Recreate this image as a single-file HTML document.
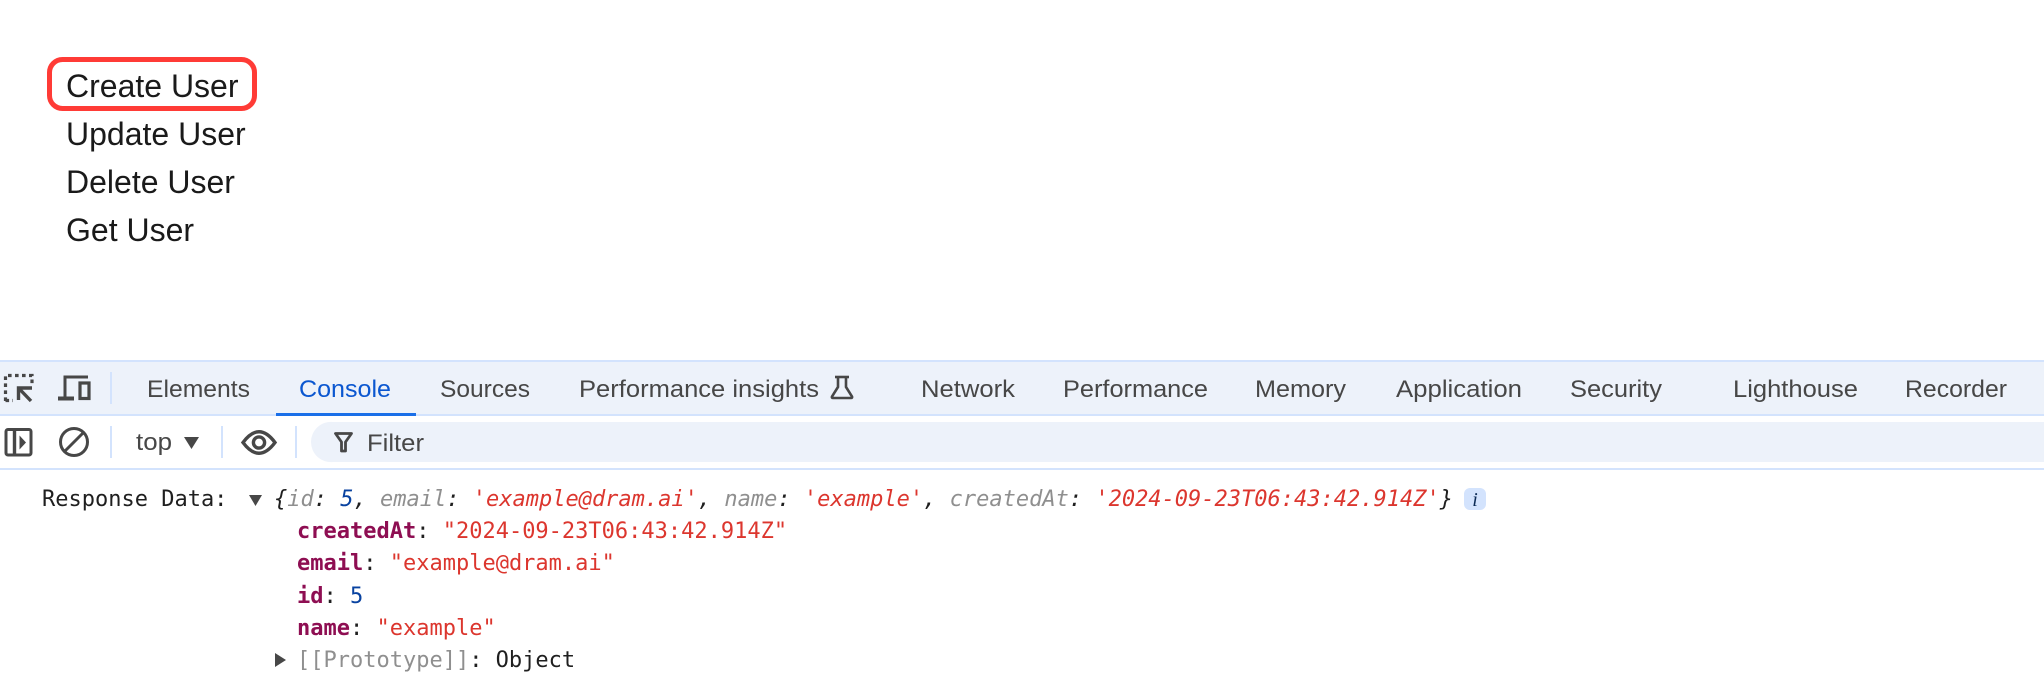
<!DOCTYPE html>
<html><head><meta charset="utf-8"><style>
html,body{margin:0;padding:0;background:#fff;width:2044px;height:684px;overflow:hidden}
svg{display:block}
.s{font-family:"Liberation Sans",sans-serif}
.t{font-size:24.5px;fill:#474747}
.m{font-family:"DejaVu Sans Mono",monospace;font-size:22px;white-space:pre}
.d{fill:#1f1f1f}.g{fill:#8f8f8f}.r{fill:#dc362e}.b{fill:#0842a0}.k{fill:#8e0e52;font-weight:bold}
.l{font-size:32px;fill:#1a1a1a}
</style></head><body>
<svg width="2044" height="684" viewBox="0 0 2044 684" xmlns="http://www.w3.org/2000/svg">
<rect width="2044" height="684" fill="#fff"/>
<g class="s">
<text class="l" x="66" y="97">Create User</text>
<text class="l" x="66" y="145">Update User</text>
<text class="l" x="66" y="193">Delete User</text>
<text class="l" x="66" y="241">Get User</text>
</g>
<rect x="49.5" y="59.5" width="205" height="49" rx="13" fill="none" stroke="#ff3b36" stroke-width="5"/>

<rect x="0" y="360" width="2044" height="56" fill="#edf2fa"/>
<rect x="0" y="360" width="2044" height="2" fill="#d3e3fd"/>
<rect x="0" y="414" width="2044" height="2" fill="#d3e3fd"/>
<rect x="0" y="468" width="2044" height="2" fill="#d3e3fd"/>
<rect x="276" y="413" width="140" height="3" fill="#1a6fe8"/>

<!-- filter pill -->
<path d="M333 422H2044V462H333A20 20 0 0 1 311 442A20 20 0 0 1 333 422Z" fill="#edf2fa"/>

<g class="s">
<text class="t" x="147" y="397" textLength="103" lengthAdjust="spacingAndGlyphs">Elements</text>
<text class="t" x="299" y="397" textLength="92" lengthAdjust="spacingAndGlyphs" style="fill:#0b57d0">Console</text>
<text class="t" x="440" y="397" textLength="90" lengthAdjust="spacingAndGlyphs">Sources</text>
<text class="t" x="579" y="397" textLength="240" lengthAdjust="spacingAndGlyphs">Performance insights</text>
<text class="t" x="921" y="397" textLength="94" lengthAdjust="spacingAndGlyphs">Network</text>
<text class="t" x="1063" y="397" textLength="145" lengthAdjust="spacingAndGlyphs">Performance</text>
<text class="t" x="1255" y="397" textLength="91" lengthAdjust="spacingAndGlyphs">Memory</text>
<text class="t" x="1396" y="397" textLength="126" lengthAdjust="spacingAndGlyphs">Application</text>
<text class="t" x="1570" y="397" textLength="92" lengthAdjust="spacingAndGlyphs">Security</text>
<text class="t" x="1733" y="397" textLength="125" lengthAdjust="spacingAndGlyphs">Lighthouse</text>
<text class="t" x="1905" y="397" textLength="102" lengthAdjust="spacingAndGlyphs">Recorder</text>
<text class="t" x="136" y="450" textLength="36" lengthAdjust="spacingAndGlyphs">top</text>
<text class="t" x="367" y="451" textLength="57" lengthAdjust="spacingAndGlyphs">Filter</text>
</g>

<!-- flask -->
<g fill="none" stroke="#474747" stroke-width="2.6">
<path d="M835 377H849"/>
<path d="M838 377V387L832 396.5Q831.5 398 833 398H851Q852.5 398 852 396.5L846 387V377"/>
</g>

<!-- separators -->
<g fill="#d3e3fd">
<rect x="110" y="372" width="2" height="32"/>
<rect x="110" y="426" width="2" height="32"/>
<rect x="221" y="426" width="2" height="32"/>
<rect x="295" y="426" width="2" height="32"/>
</g>

<!-- inspector -->
<g fill="none" stroke="#474747">
<path d="M5.5 401V375.5H32V385" stroke-width="3.2" stroke-dasharray="3.6 3.4"/>
<path d="M5.5 400.5H13" stroke-width="3.2" stroke-dasharray="3.6 3.4"/>
<path d="M18.5 400V388H32M18.5 388L31 401" stroke-width="3.4"/>
</g>
<!-- device -->
<g fill="none" stroke="#474747">
<path d="M65 397V377H88" stroke-width="3"/>
<path d="M58 398.5H74" stroke-width="4"/>
<rect x="80" y="383" width="9" height="15.5" stroke-width="3.2"/>
</g>

<!-- sidebar -->
<g fill="none" stroke="#474747" stroke-width="3">
<rect x="6" y="429.5" width="25" height="25.5" rx="2"/>
<path d="M14.5 429.5V455" stroke-width="3.4"/>
</g>
<path d="M19.5 435.5L26 442.5L19.5 449.5Z" fill="#474747"/>
<!-- block -->
<g fill="none" stroke="#474747" stroke-width="3">
<circle cx="74" cy="442" r="13.5"/>
<path d="M65 451L83 433"/>
</g>
<!-- dropdown -->
<path d="M184 437H199L191.5 449Z" fill="#474747"/>
<!-- eye -->
<g fill="none" stroke="#474747" stroke-width="3.4">
<path d="M243 442.5Q259 421 275 442.5Q259 464 243 442.5Z"/>
<circle cx="259" cy="442.5" r="5.6"/>
</g>
<path d="M335.5 433.5H351.5L345.5 442V451H341.5V442Z" fill="none" stroke="#474747" stroke-width="2.8" stroke-linejoin="round"/>

<!-- console -->
<text class="m d" x="42" y="506">Response Data:</text>
<path d="M249 495H262L255.5 506Z" fill="#474747"/>
<text class="m" x="274" y="506" style="font-style:italic"><tspan class="d">{</tspan><tspan class="g">id</tspan><tspan class="d">: </tspan><tspan class="b">5</tspan><tspan class="d">, </tspan><tspan class="g">email</tspan><tspan class="d">: </tspan><tspan class="r">'example@dram.ai'</tspan><tspan class="d">, </tspan><tspan class="g">name</tspan><tspan class="d">: </tspan><tspan class="r">'example'</tspan><tspan class="d">, </tspan><tspan class="g">createdAt</tspan><tspan class="d">: </tspan><tspan class="r">'2024-09-23T06:43:42.914Z'</tspan><tspan class="d">}</tspan></text>
<rect x="1464" y="488" width="22" height="22" rx="6" fill="#d3e3fd"/>
<text x="1475" y="506" text-anchor="middle" style="font-family:'Liberation Serif',serif;font-style:italic;font-size:20px;fill:#0b2a55">i</text>

<text class="m" x="297" y="538"><tspan class="k">createdAt</tspan><tspan class="d">: </tspan><tspan class="r">"2024-09-23T06:43:42.914Z"</tspan></text>
<text class="m" x="297" y="570"><tspan class="k">email</tspan><tspan class="d">: </tspan><tspan class="r">"example@dram.ai"</tspan></text>
<text class="m" x="297" y="603"><tspan class="k">id</tspan><tspan class="d">: </tspan><tspan class="b">5</tspan></text>
<text class="m" x="297" y="635"><tspan class="k">name</tspan><tspan class="d">: </tspan><tspan class="r">"example"</tspan></text>
<path d="M275 653L286 660L275 667Z" fill="#474747"/>
<text class="m" x="297" y="667"><tspan class="g">[[Prototype]]</tspan><tspan class="d">: Object</tspan></text>
</svg>
</body></html>
